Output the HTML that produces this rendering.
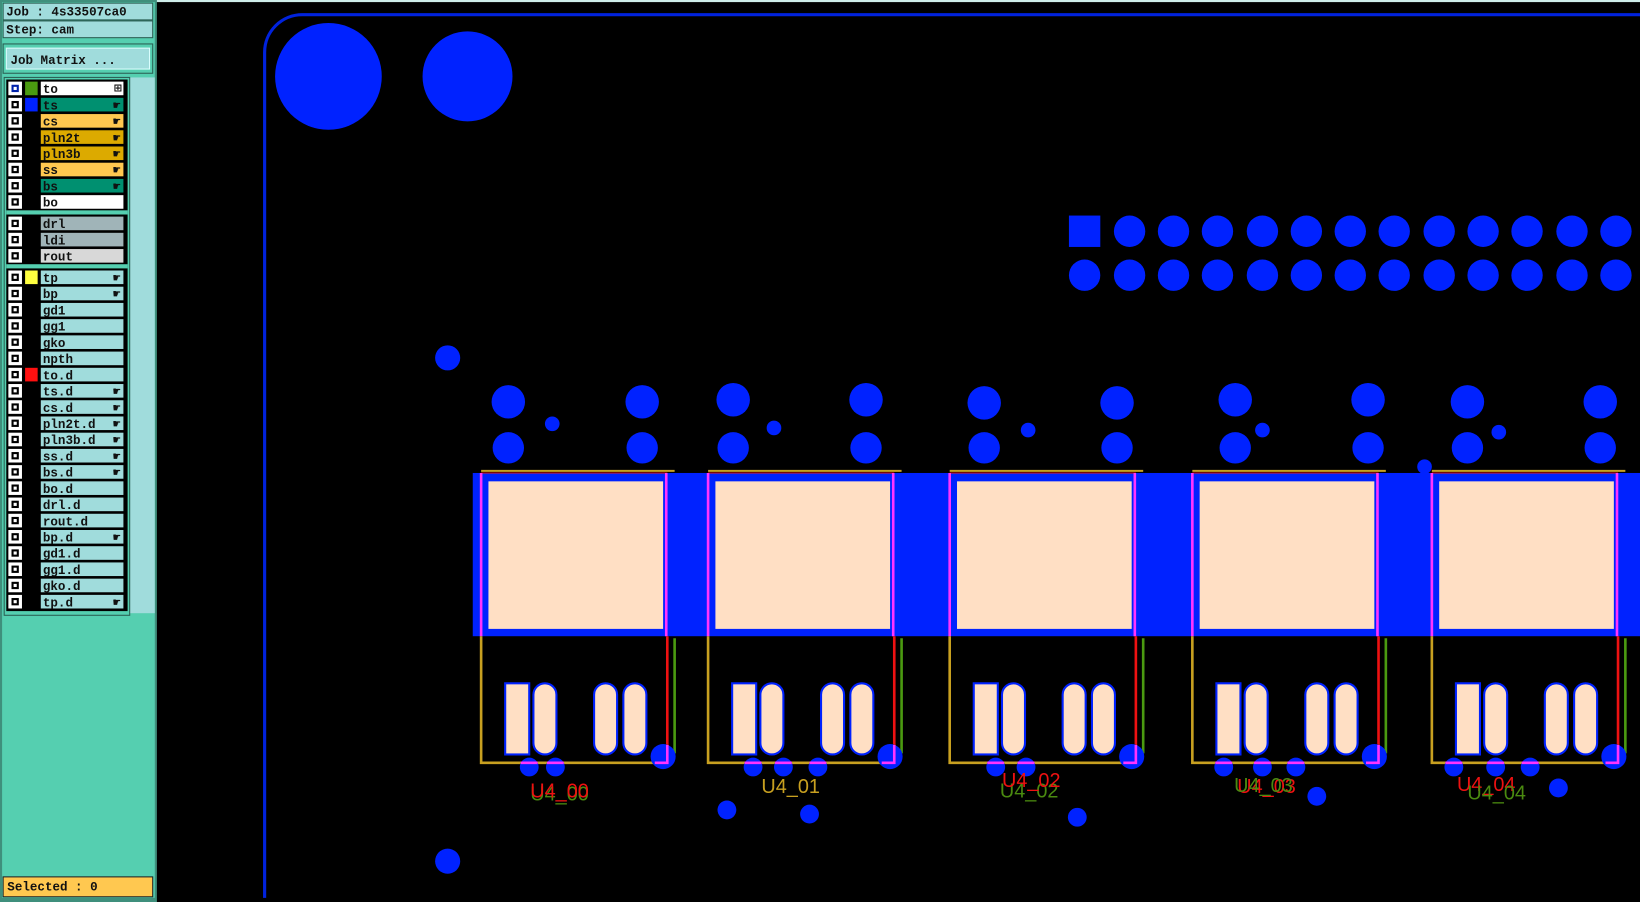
<!DOCTYPE html>
<html><head><meta charset="utf-8"><style>
html,body{margin:0;padding:0;background:#000;width:1640px;height:902px;overflow:hidden}
svg{display:block}
.t{font-family:"Liberation Mono",monospace;font-weight:bold;font-size:12px;fill:#111}
.lbl{font-family:"Liberation Sans",sans-serif;font-size:19px}
</style></head><body>
<svg width="1640" height="902" viewBox="0 0 1568 862" preserveAspectRatio="none" xmlns="http://www.w3.org/2000/svg">
<rect width="1568" height="862" fill="#000"/>
<rect x="0" y="0" width="1568" height="2" fill="#cfeeea"/>
<!-- sidebar -->
<rect x="0" y="0" width="150" height="862" fill="#3f8f7c"/>
<rect x="2" y="2" width="146" height="856" fill="#55cfb0"/>
<rect x="3" y="3" width="143" height="16" fill="#a0dcdc" stroke="#2a5e52"/>
<text class="t" x="6" y="15">Job : 4s33507ca0</text>
<rect x="3" y="20" width="143" height="16" fill="#a0dcdc" stroke="#2a5e52"/>
<text class="t" x="6" y="32">Step: cam</text>
<rect x="3" y="42" width="143" height="28" fill="#55cfb0" stroke="#2a5e52"/>
<rect x="6" y="46" width="137" height="20" fill="#a0dcdc" stroke="#dff" />
<text class="t" x="10" y="61">Job Matrix ...</text>
<rect x="124" y="74" width="24" height="512" fill="#a0dcdc"/>
<rect x="4" y="74" width="120" height="514" fill="#55cfb0" stroke="#2a5e52"/>
<rect x="6" y="76" width="116" height="508" fill="#000"/>
<g id="rows"></g>
<rect x="3" y="838" width="143" height="19" fill="#ffc850" stroke="#222"/>
<text class="t" x="7" y="851">Selected : 0</text>
<!-- board -->
<path d="M253 858 V50 A36 36 0 0 1 289 14 H1568" fill="none" stroke="#0022dd" stroke-width="3"/>
<g fill="#0022ff">
<circle cx="314" cy="73" r="51"/><circle cx="447" cy="73" r="43"/>
<rect x="1022" y="206" width="30" height="30"/>
<circle cx="428" cy="342" r="12"/><circle cx="428" cy="823" r="12"/>
<circle cx="1362" cy="446" r="7"/>
<rect x="452" y="452" width="1116" height="156"/>
</g>
<g id="pins" fill="#0022ff"></g>
<g id="comps"></g>
<g fill="#0022ff">
<circle cx="695" cy="774" r="9"/><circle cx="774" cy="778" r="9"/><circle cx="1030" cy="781" r="9"/><circle cx="1259" cy="761" r="9"/><circle cx="1490" cy="753" r="9"/>
</g>
<g class="lbl">
<text x="507" y="765" fill="#4a8a10">U4_00</text><text x="507" y="762" fill="#ee1111">U4_00</text>
<text x="728" y="758" fill="#c8a020">U4_01</text>
<text x="956" y="762" fill="#4a8a10">U4_02</text><text x="958" y="752" fill="#ee1111">U4_02</text>
<text x="1183" y="758" fill="#ee1111">U4_03</text><text x="1180" y="757" fill="#4a8a10">U4_03</text>
<text x="1393" y="756" fill="#ee1111">U4_04</text><text x="1403" y="764" fill="#4a8a10">U4_04</text>
</g>
</svg>
<script>
var NS="http://www.w3.org/2000/svg";
function el(p,t,a){var e=document.createElementNS(NS,t);for(var k in a)e.setAttribute(k,a[k]);p.appendChild(e);return e;}
var rows=document.getElementById('rows');
var L=[["to","#fff","#4a9a10","b"],["ts","#009070","#0022ff","h"],["cs","#ffc850","","h"],["pln2t","#dcaa00","","h"],["pln3b","#dcaa00","","h"],["ss","#ffc850","","h"],["bs","#009070","","h"],["bo","#fff","",""],
 null,["drl","#a0b4b8","",""],["ldi","#a0b4b8","",""],["rout","#d8d8d8","",""],null,
 ["tp","#a0dcdc","#ffff40","h"],["bp","#a0dcdc","","h"],["gd1","#a0dcdc","",""],["gg1","#a0dcdc","",""],["gko","#a0dcdc","",""],["npth","#a0dcdc","",""],["to.d","#a0dcdc","#ff1010",""],["ts.d","#a0dcdc","","h"],["cs.d","#a0dcdc","","h"],["pln2t.d","#a0dcdc","","h"],["pln3b.d","#a0dcdc","","h"],["ss.d","#a0dcdc","","h"],["bs.d","#a0dcdc","","h"],["bo.d","#a0dcdc","",""],["drl.d","#a0dcdc","",""],["rout.d","#a0dcdc","",""],["bp.d","#a0dcdc","","h"],["gd1.d","#a0dcdc","",""],["gg1.d","#a0dcdc","",""],["gko.d","#a0dcdc","",""],["tp.d","#a0dcdc","","h"]];
var y=77;
L.forEach(function(r){
 if(!r){el(rows,'rect',{x:6,y:y,width:116,height:4,fill:'#55cfb0'});y+=5;return;}
 el(rows,'rect',{x:8,y:y+1,width:13,height:13,fill:'#fff'});
 el(rows,'rect',{x:11,y:y+4,width:7,height:7,fill:r[0]=="to"?'#0022aa':'#000'});
 el(rows,'rect',{x:13,y:y+6,width:3,height:3,fill:'#fff'});
 if(r[2])el(rows,'rect',{x:24,y:y+1,width:12,height:13,fill:r[2]});
 el(rows,'rect',{x:39,y:y+1,width:79,height:13,fill:r[1]});
 var t=el(rows,'text',{x:41,y:y+12,'class':'t'});t.textContent=r[0];
 if(r[3]=="h"){var h=el(rows,'text',{x:108,y:y+12,'class':'t','font-size':'9'});h.textContent="☛";}
 if(r[3]=="b"){var h=el(rows,'text',{x:109,y:y+11,'class':'t','font-size':'8'});h.textContent="⊞";}
 y+=15.5;
});
var pins=document.getElementById('pins');
var xs=[1080,1122,1164,1207,1249,1291,1333,1376,1418,1460,1503,1545];
xs.forEach(function(x){el(pins,'circle',{cx:x,cy:221,r:15});});
[1037].concat(xs).forEach(function(x){el(pins,'circle',{cx:x,cy:263,r:15});});
var C=[{d:0,a:[486,614],ay:384,s:[528,405],v:[506,531]},{d:217,a:[701,828],ay:382,s:[740,409],v:[720,749,782]},{d:448,a:[941,1068],ay:385,s:[983,411],v:[952,981]},{d:680,a:[1181,1308],ay:382,s:[1207,411],v:[1170,1207,1239]},{d:909,a:[1403,1530],ay:384,s:[1433,413],v:[1390,1430,1463]}];
var comps=document.getElementById('comps');
C.forEach(function(c){
 c.a.forEach(function(x){el(pins,'circle',{cx:x,cy:c.ay,r:16});el(pins,'circle',{cx:x,cy:428,r:15});});
 el(pins,'circle',{cx:c.s[0],cy:c.s[1],r:7});
 var g=el(comps,'g',{transform:'translate('+c.d+',0)'});
 el(g,'rect',{x:467,y:460,width:167,height:141,fill:'#ffdfc4'});
 el(g,'line',{x1:460,y1:450,x2:645,y2:450,stroke:'#c8a020','stroke-width':2});
 el(g,'line',{x1:460,y1:452,x2:638,y2:452,stroke:'#ee1111','stroke-width':1});
 el(g,'line',{x1:460,y1:452,x2:460,y2:608,stroke:'#ff33ff','stroke-width':2.5});
 el(g,'line',{x1:637,y1:452,x2:637,y2:608,stroke:'#ff33ff','stroke-width':2.5});
 el(g,'polyline',{points:'460,608 460,729 640,729',fill:'none',stroke:'#c8a020','stroke-width':2.5});
 el(g,'line',{x1:638,y1:608,x2:638,y2:729,stroke:'#ee1111','stroke-width':2.5});
 el(g,'line',{x1:645,y1:610,x2:645,y2:720,stroke:'#4a9a10','stroke-width':2.5});
 el(g,'rect',{x:483,y:653,width:23,height:68,fill:'#ffdfc4',stroke:'#0022ff','stroke-width':2});
 [510,568,596].forEach(function(x){el(g,'rect',{x:x,y:653,width:22,height:68,rx:11,ry:11,fill:'#ffdfc4',stroke:'#0022ff','stroke-width':2});});
 el(g,'circle',{cx:634,cy:723,r:12,fill:'#0022ff'});
 el(g,'polyline',{points:'638,712 638,729 626,729',fill:'none',stroke:'#ff33ff','stroke-width':2.5});
 c.v.forEach(function(x){el(comps,'circle',{cx:x,cy:733,r:9,fill:'#0022ff'});el(comps,'line',{x1:x-8,y1:729,x2:x+8,y2:729,stroke:'#ff33ff','stroke-width':2.5});});
});
</script>
</body></html>
